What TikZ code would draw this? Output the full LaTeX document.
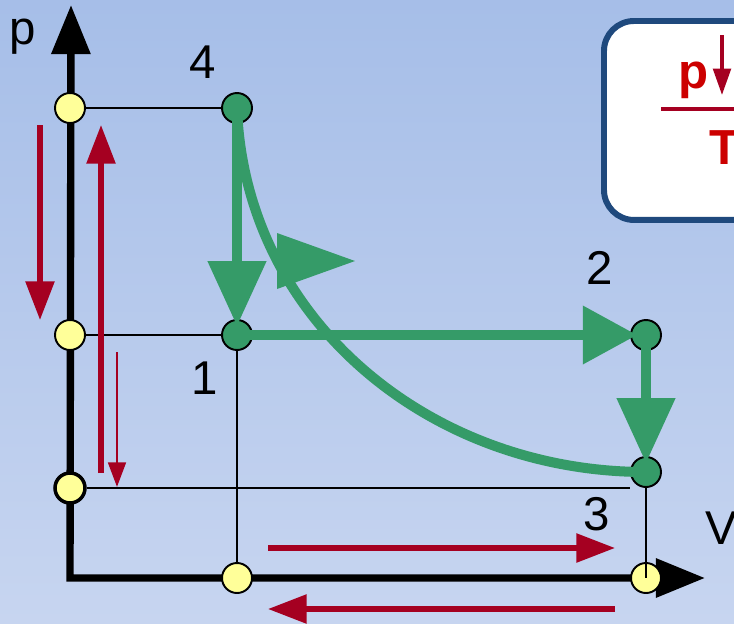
\documentclass[tikz,border=0pt]{standalone}
\usepackage{fontspec}
\setmainfont{Liberation Sans}
\usetikzlibrary{arrows.meta}
\usetikzlibrary{backgrounds}
\definecolor{cgreen}{RGB}{53,155,104}
\definecolor{cred}{RGB}{165,0,33}
\definecolor{cyel}{RGB}{255,255,153}
\definecolor{ctext}{RGB}{204,0,0}
\definecolor{cbox}{RGB}{31,73,125}
\definecolor{bgtop}{RGB}{166,190,232}
\definecolor{bgbot}{RGB}{199,213,240}

\begin{document}
\begin{tikzpicture}[x=0.02cm,y=-0.02cm]
\tikzstyle{ydot}=[circle,draw,line width=1.1pt,fill=cyel,minimum size=0.6cm,inner sep=0pt]
\tikzstyle{gdot}=[ydot,fill=cgreen]
\tikzstyle{lbl}=[font=\fontsize{27}{32}\selectfont,inner sep=0pt]
\tikzstyle{btxt}=[font=\bfseries\fontsize{28}{32}\selectfont,text=ctext,inner sep=0pt,anchor=base]
\tikzstyle{thinline}=[line width=1.1pt]
\tikzstyle{axis}=[line width=4.2pt,line join=miter,<->,>={Triangle[length=28pt,width=21.5pt]}]
\tikzstyle{gline}=[cgreen,line width=5.7pt,shorten >=5pt,-{Triangle[length=37pt,width=32pt]}]
\tikzstyle{rline}=[cred,line width=3pt,-{Triangle[length=22pt,width=16pt]}]
\useasboundingbox (0,0) rectangle (734,623);
\clip (0,0) rectangle (734,623);

% axis points and state points
\coordinate (o) at (70,578);
\coordinate (ptip) at (71,5);
\coordinate (vtip) at (705,578);
\node[ydot] (p4) at (70,108) {};
\node[ydot] (p1) at (70,335) {};
\node[ydot,line width=2pt] (p3) at (70,488) {};
\node[ydot] (v1) at (237,578) {};
\node[ydot] (v3) at (646,578) {};
\node[gdot] (n4) at (237,108) {};
\node[gdot] (n1) at (237,335) {};
\node[gdot] (n2) at (646,335) {};
\node[gdot] (n3) at (646,472) {};
\coordinate (e3) at (630,488);

\begin{scope}[on background layer]
\shade[top color=bgtop,bottom color=bgbot] (0,0) rectangle (734,623);
\draw[thinline] (p4) -- (n4);
\draw[thinline] (p1) -- (n1);
\draw[thinline] (p3) -- (e3);
\draw[line width=0.8pt] (n1) -- (v1);
\draw[axis] (ptip) -- (o) -- (vtip);
\end{scope}
\draw[line width=0.8pt] (n3.south) -- (v3.center);

% cycle
\draw[cgreen,line width=5.7pt] (n3.center) .. controls (430,472) and (245,320) .. (n4.center);
\fill[cgreen] (277,233) -- (355,261) -- (277,289) -- cycle;
\draw[gline] (n4.center) -- (n1.center);
\draw[gline,-{Triangle[length=31pt,width=32pt]}] (n1.center) -- (n2.center);
\draw[gline] (n2.center) -- (n3.center);

% labels
\node[lbl] (lp) at (23,37) {p};
\node[lbl] (lV) at (721,528) {V};
\node[lbl] (l4) at (203,62) {4};
\node[lbl] (l1) at (205,378) {1};
\node[lbl] (l2) at (600,268) {2};
\node[lbl] (l3) at (597,514) {3};

% red arrows
\coordinate (ra) at (40,125); \coordinate (rat) at (40,320);
\coordinate (rb) at (101,473); \coordinate (rbt) at (101,125);
\coordinate (rc) at (117,352); \coordinate (rct) at (117,487);
\coordinate (rd) at (268,548); \coordinate (rdt) at (615,548);
\coordinate (re) at (615,609); \coordinate (ret) at (268,609);
\draw[rline] (ra) -- (rat);
\draw[rline] (rb) -- (rbt);
\draw[rline,line width=1.7pt,-{Triangle[length=14pt,width=10pt]}] (rc) -- (rct);
\draw[rline] (rd) -- (rdt);
\draw[rline] (re) -- (ret);

% box
\node[draw=cbox,line width=3.4pt,fill=white,rounded corners=0.6cm,minimum width=4cm,minimum height=3.98cm,anchor=north west] (box) at (601,18) {};
\node[btxt] (bp) at (694,88) {p};
\node[btxt] (bT) at (725,164) {T};
\coordinate (ba) at (722,35); \coordinate (bat) at (722,95);
\coordinate (fl) at (661,109); \coordinate (fr) at (760,109);
\draw[cred,line width=2pt,-{Triangle[length=15pt,width=10pt]}] (ba) -- (bat);
\draw[cred,line width=2.3pt] (fl) -- (fr);
\end{tikzpicture}
\end{document}
